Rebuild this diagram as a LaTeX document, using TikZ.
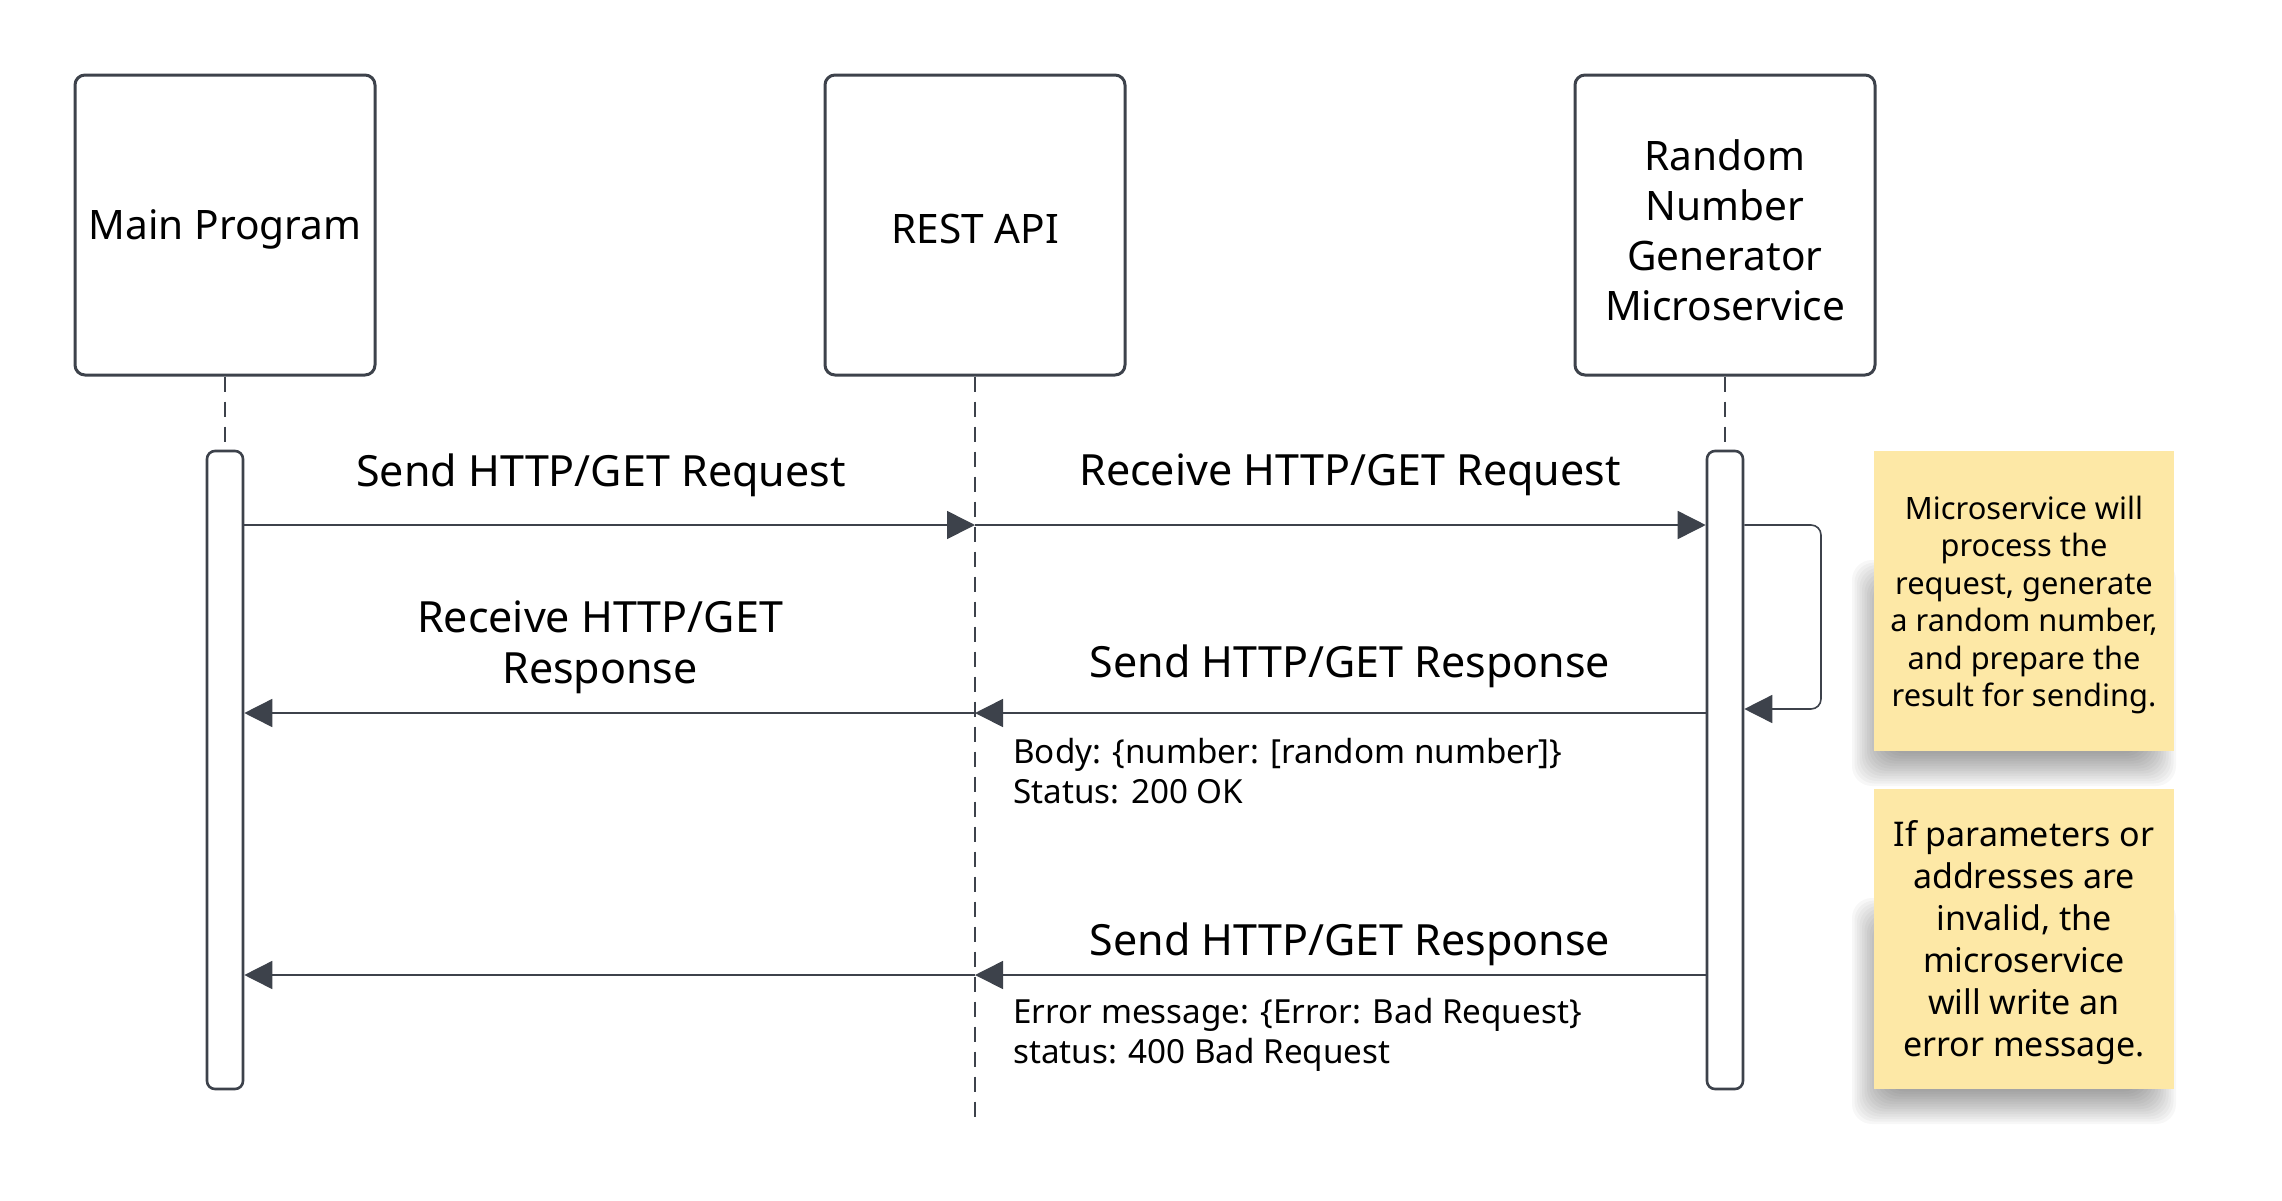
\documentclass[tikz,border=0pt]{standalone}
\usepackage{fontspec}
\setmainfont{Noto Sans}
\usetikzlibrary{arrows.meta}
\definecolor{ink}{RGB}{61,66,75}
\definecolor{sticky}{RGB}{253,232,166}
\tikzset{
  actor/.style={draw=ink, line width=1.5pt, rounded corners=5pt, fill=white,
    minimum width=150pt, minimum height=150pt, inner sep=0pt},
  actorlabel/.style={align=center, inner sep=0pt, font=\fontsize{20.3}{25}\selectfont},
  actbar/.style={draw=ink, line width=1.3pt, rounded corners=4pt, fill=white,
    minimum width=18pt, minimum height=319pt, inner sep=0pt},
  lifeline/.style={draw=ink, line width=0.8pt, dash pattern=on 7.5pt off 5pt},
  msg/.style={draw=ink, line width=0.8pt, -{Triangle[length=14pt,width=14pt]}},
  loopmsg/.style={draw=ink, line width=0.8pt, rounded corners=5pt, -{Triangle[length=14pt,width=14pt]}},
  msglabel/.style={font=\fontsize{21.5}{25.5}\selectfont, align=center, inner sep=0pt},
  detail/.style={font=\fontsize{16.6}{20}\selectfont, align=left, anchor=west, inner sep=0pt},
  note/.style={fill=sticky, minimum width=150pt, minimum height=150pt, inner sep=0pt},
  notetext/.style={align=center, inner sep=0pt},
  shadowlayer/.style={fill=black, opacity=0.03, rounded corners=10pt},
}
\begin{document}
\begin{tikzpicture}[x=0.5pt,y=-0.5pt]
\useasboundingbox (0,0) rectangle (2282,1200);
% actors
\node[actor] (main) at (225,225) {};
\node[actor] (rest) at (975,225) {};
\node[actor] (rng) at (1725,225) {};
\node[actorlabel] (mainlbl) at (225,229) {Main Program};
\node[actorlabel] (restlbl) at (975,229) {REST API};
\node[actorlabel] (rnglbl) at (1725,230) {Random\\Number\\Generator\\Microservice};
% activation bars
\node[actbar] (mainbar) at (225,770) {};
\node[actbar] (rngbar) at (1725,770) {};
\coordinate (restend) at (975,1125);
% lifelines
\draw[lifeline] (main.south) -- (mainbar.north);
\draw[lifeline] (rng.south) -- (rngbar.north);
\draw[lifeline] (rest.south) -- (restend);
% message coordinates
\coordinate (r1) at (975,525);
\coordinate (lp) at (1821,709);
\coordinate (r3) at (975,713);
\coordinate (r4) at (975,975);
% messages
\draw[msg] (mainbar.east |- r1) -- (r1);
\draw[msg] (r1) -- (rngbar.west |- r1);
\draw[loopmsg] (rngbar.east |- r1) -| (lp) -- (rngbar.east |- lp);
\draw[msg] (rngbar.west |- r3) -- (r3);
\draw[msg] (r3) -- (mainbar.east |- r3);
\draw[msg] (rngbar.west |- r4) -- (r4);
\draw[msg] (r4) -- (mainbar.east |- r4);
% labels
\node[msglabel] (l1) at (601,475) {Send HTTP/GET Request};
\node[msglabel] (l2) at (1350,475) {Receive HTTP/GET Request};
\node[msglabel] (l3) at (1350,666) {Send HTTP/GET Response};
\node[msglabel] (l4) at (600,647) {Receive HTTP/GET\\Response};
\node[msglabel] (l5) at (1350,944) {Send HTTP/GET Response};
\node[detail] (d1) at (1013,771) {Body: \{number: [random number]\}\\Status: 200 OK};
\node[detail] (d2) at (1013,1035) {Error message: \{Error: Bad Request\}\\status: 400 Bad Request};
% sticky notes with soft shadow
\foreach \i in {0,...,13}{
  \fill[shadowlayer] (1852+\i*2.5, 560+\i*2.5) rectangle (2176-\i*2.5, 786-\i*2.5);
  \fill[shadowlayer] (1852+\i*2.5, 898+\i*2.5) rectangle (2176-\i*2.5, 1124-\i*2.5);
}
\node[note] (n1) at (2024,601) {};
\node[note] (n2) at (2024,939) {};
\node[notetext, font=\fontsize{15.4}{18.75}\selectfont] (n1t) at (2024,605) {Microservice will\\process the\\request, generate\\a random number,\\and prepare the\\result for sending.};
\node[notetext, font=\fontsize{17}{21}\selectfont] (n2t) at (2024,943) {If parameters or\\addresses are\\invalid, the\\microservice\\will write an\\error message.};
\end{tikzpicture}
\end{document}
